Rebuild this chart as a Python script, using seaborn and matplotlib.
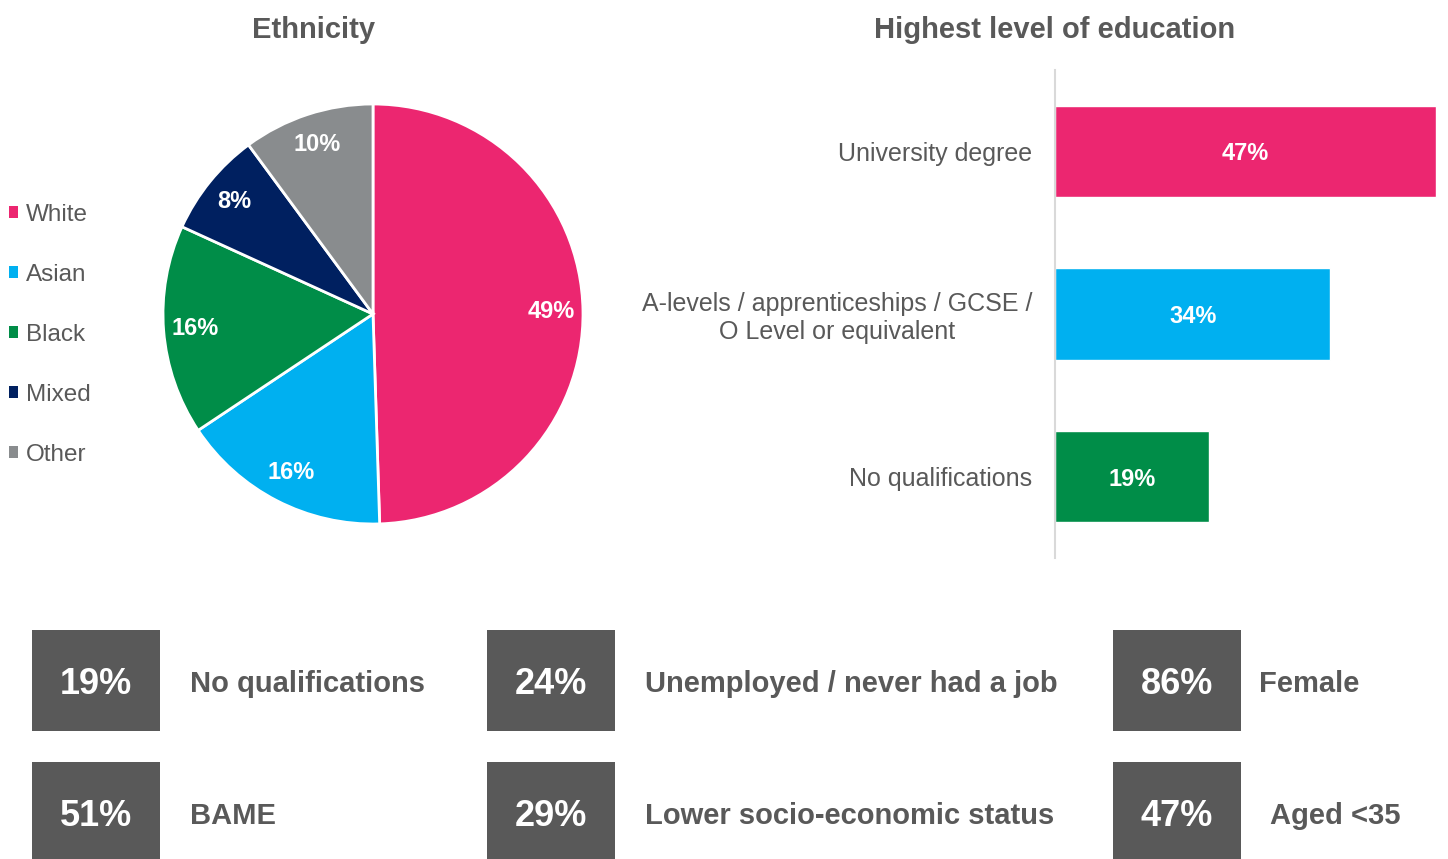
import matplotlib
matplotlib.use("Agg")
import matplotlib.pyplot as plt
import seaborn as sns
import pandas as pd
from matplotlib.patches import Patch

# ---- data ----
eth_labels = ["White", "Asian", "Black", "Mixed", "Other"]
eth_values = [49, 16, 16, 8, 10]
eth_colors = ["#EC2670", "#00B0F0", "#008D48", "#002060", "#898C8E"]

edu_labels = ["University degree",
              "A-levels / apprenticeships / GCSE /\nO Level or equivalent",
              "No qualifications"]
edu_values = [47, 34, 19]
edu_colors = ["#EC2670", "#00B0F0", "#008D48"]

stat_values = ["19%", "24%", "86%", "51%", "29%", "47%"]
stat_labels = ["No qualifications", "Unemployed / never had a job", "Female",
               "BAME", "Lower socio-economic status", "Aged <35"]

sns.set_theme(style="white")
plt.rcParams["font.family"] = ["Liberation Sans", "DejaVu Sans"]

W, H = 1448, 859
fig = plt.figure(figsize=(W / 100, H / 100), dpi=100)
TXT = "#595959"


def fx(px):
    return px / W


def fy(py):
    return 1 - py / H


# ---- titles ----
fig.text(fx(314), fy(27), "Ethnicity", ha="center", va="center_baseline",
         fontsize=21, fontweight="bold", color=TXT)
fig.text(fx(1055), fy(27), "Highest level of education", ha="center",
         va="center_baseline", fontsize=21, fontweight="bold", color=TXT)

# ---- pie ----
cx, cy, R = 373, 314, 210
half = R * 1.25
ax_pie = fig.add_axes([fx(cx - half), fy(cy + half), 2 * half / W, 2 * half / H])
wedges, texts, autotexts = ax_pie.pie(
    eth_values, colors=eth_colors, startangle=90, counterclock=False,
    autopct="%d", pctdistance=0.85,
    wedgeprops=dict(edgecolor="white", linewidth=2),
    textprops=dict(color="white", fontsize=17, fontweight="bold"))
for t, v in zip(autotexts, eth_values):
    t.set_text(f"{v}%")
ax_pie.set_xlim(-1.25, 1.25)
ax_pie.set_ylim(-1.25, 1.25)

handles = [Patch(facecolor=c, edgecolor="none") for c in eth_colors]
fig.legend(handles, eth_labels, loc="upper left",
           bbox_to_anchor=(fx(9), fy(204)), frameon=False, fontsize=17.5,
           handlelength=0.37, handleheight=0.37, handletextpad=0.33,
           labelspacing=1.56, borderpad=0, borderaxespad=0, labelcolor=TXT)

# ---- bar ----
ax_bar = fig.add_axes([fx(1055), fy(558), (W - 1055) / W, (558 - 70) / H])
df = pd.DataFrame({"level": edu_labels, "pct": edu_values})
sns.barplot(data=df, y="level", x="pct", hue="level", palette=edu_colors,
            orient="h", width=0.56, legend=False, ax=ax_bar, saturation=1)
ax_bar.set_xlim(0, (W - 1055) / 8.1)
ax_bar.set_ylim(2.5, -0.5)
for cont, v in zip(ax_bar.containers, edu_values):
    for t in ax_bar.bar_label(cont, labels=[f"{v}%"], label_type="center",
                              color="white", fontsize=17, fontweight="bold"):
        t.set_va("center_baseline")
for s in ["top", "right", "bottom"]:
    ax_bar.spines[s].set_visible(False)
ax_bar.spines["left"].set_color("#D9D9D9")
ax_bar.spines["left"].set_linewidth(1.5)
ax_bar.set_xticks([])
ax_bar.set_xlabel("")
ax_bar.set_ylabel("")
ax_bar.tick_params(axis="y", length=0, pad=16.5, labelsize=18, labelcolor=TXT)
for lbl in ax_bar.get_yticklabels():
    lbl.set_multialignment("center")
    lbl.set_linespacing(1.2)

# ---- stat boxes ----
box_cols = [32, 487, 1113]
rows = [(630, 731), (762, 859)]
label_x = [190, 645, 1259, 190, 645, 1270]
for i, (val, lab) in enumerate(zip(stat_values, stat_labels)):
    r, c = divmod(i, 3)
    top, bot = rows[r]
    bx = box_cols[c]
    axb = fig.add_axes([fx(bx), fy(bot), 128 / W, (bot - top) / H])
    axb.set_facecolor("#595959")
    axb.set_xticks([])
    axb.set_yticks([])
    for s in axb.spines.values():
        s.set_visible(False)
    ymid = (top + bot) / 2 if r == 0 else 813
    axb.text(0.5, 1 - (ymid - top) / (bot - top), val, transform=axb.transAxes,
             ha="center", va="center_baseline", fontsize=26,
             fontweight="bold", color="white")
    fig.text(fx(label_x[i]), fy(ymid), lab, ha="left",
             va="center_baseline", fontsize=21, fontweight="bold", color=TXT)

fig.savefig("out.png", dpi=100)
